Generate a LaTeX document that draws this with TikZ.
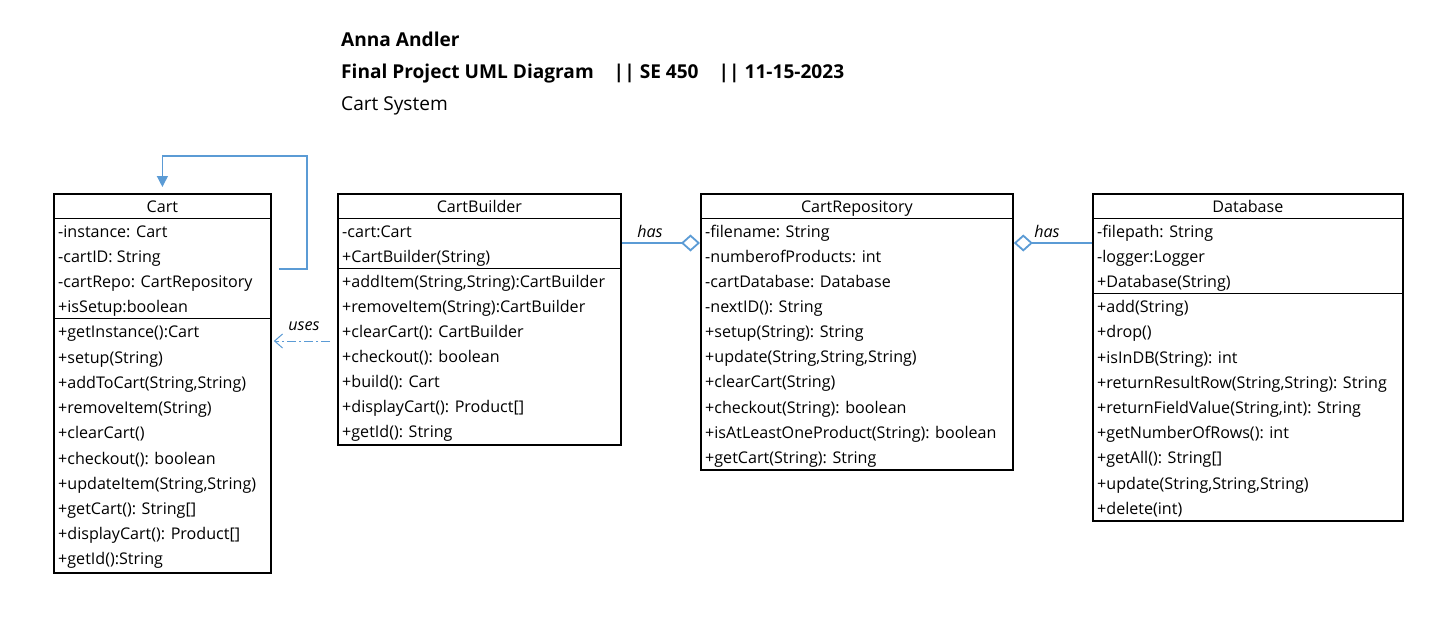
\documentclass[tikz,border=0pt]{standalone}
\usepackage{fontspec}
\setmainfont{Open Sans}
\usetikzlibrary{arrows.meta,calc}
\definecolor{umlblue}{HTML}{5B9BD5}
\newcommand{\rowfont}{\fontsize{16.1}{19}\selectfont}
\newcommand{\titlefont}{\fontsize{19.1}{22}\selectfont}
\begin{document}
\begin{tikzpicture}[x=1pt,y=-1pt,
  classbox/.style={draw, line width=1.8pt, inner sep=0pt, anchor=north west},
  rowtext/.style={anchor=base west, inner sep=0pt, font=\rowfont},
  headtext/.style={anchor=base, inner sep=0pt, font=\rowfont},
  sepline/.style={line width=1pt},
  link/.style={draw=umlblue, line width=1.8pt},
  lbl/.style={inner sep=0pt, font=\rowfont\itshape},
  ttl/.style={anchor=base west, inner sep=0pt, font=\titlefont}]
\useasboundingbox (0,0) rectangle (1451,643);
% titles
\node[ttl, font=\titlefont\bfseries] (t1) at (341,46) {Anna Andler};
\node[ttl, font=\titlefont\bfseries] (t2) at (341,78) {Final Project UML Diagram\hspace{20pt}|| SE 450\hspace{20pt}|| 11-15-2023};
\node[ttl] (t3) at (341,110) {Cart System};
% boxes
\node[classbox, minimum width=217pt, minimum height=379pt] (cart) at (53,193) {};
\node[classbox, minimum width=283pt, minimum height=251pt] (cb) at (337,193) {};
\node[classbox, minimum width=312pt, minimum height=276pt] (repo) at (700,193) {};
\node[classbox, minimum width=310pt, minimum height=327pt] (db) at (1092,193) {};
% headers
\foreach \b/\t in {cart/Cart, cb/CartBuilder, repo/CartRepository, db/Database}{
  \node[headtext] (\b-h) at ($(\b.north)+(0,19)$) {\t};
  \draw[sepline] ($(\b.north west)+(0,25)$) -- ($(\b.north east)+(0,25)$);
}
% Cart rows
\foreach [count=\i] \t in {{-instance: Cart},{-cartID: String},{-cartRepo: CartRepository},{+isSetup:boolean},
  {+getInstance():Cart},{+setup(String)},{+addToCart(String,String)},{+removeItem(String)},{+clearCart()},
  {+checkout(): boolean},{+updateItem(String,String)},{+getCart(): String[]},{+displayCart(): Product[]},{+getId():String}}
  \node[rowtext] (cart-r\i) at ($(cart.north west)+(5,44+25.23*\i-25.23)$) {\t};
\draw[sepline] ($(cart.north west)+(0,125.5)$) -- ($(cart.north east)+(0,125.5)$);
% CartBuilder rows
\foreach [count=\i] \t in {{-cart:Cart},{+CartBuilder(String)},
  {+addItem(String,String):CartBuilder},{+removeItem(String):CartBuilder},{+clearCart(): CartBuilder},
  {+checkout(): boolean},{+build(): Cart},{+displayCart(): Product[]},{+getId(): String}}
  \node[rowtext] (cb-r\i) at ($(cb.north west)+(5,44+25.1*\i-25.1)$) {\t};
\draw[sepline] ($(cb.north west)+(0,75.5)$) -- ($(cb.north east)+(0,75.5)$);
% CartRepository rows
\foreach [count=\i] \t in {{-filename: String},{-numberofProducts: int},{-cartDatabase: Database},{-nextID(): String},
  {+setup(String): String},{+update(String,String,String)},{+clearCart(String)},{+checkout(String): boolean},
  {+isAtLeastOneProduct(String): boolean},{+getCart(String): String}}
  \node[rowtext] (repo-r\i) at ($(repo.north west)+(5,44+25.15*\i-25.15)$) {\t};
% Database rows
\foreach [count=\i] \t in {{-filepath: String},{-logger:Logger},{+Database(String)},
  {+add(String)},{+drop()},{+isInDB(String): int},{+returnResultRow(String,String): String},
  {+returnFieldValue(String,int): String},{+getNumberOfRows(): int},{+getAll(): String[]},
  {+update(String,String,String)},{+delete(int)}}
  \node[rowtext] (db-r\i) at ($(db.north west)+(5,44+25.2*\i-25.2)$) {\t};
\draw[sepline] ($(db.north west)+(0,100.5)$) -- ($(db.north east)+(0,100.5)$);
% self association on Cart
\coordinate (loopstart) at ($(cart.north east)+(7,76)$);
\coordinate (loopcorner) at (307,156);
\draw[link, line width=1.3pt, -{Triangle[length=11pt,width=11pt]}] (loopstart) -| (loopcorner) -| ([yshift=6pt]cart.north);
% uses
\draw[draw=umlblue, line width=1pt, dash pattern=on 9pt off 3pt on 2pt off 3pt,
  -{Straight Barb[length=8pt,width=14pt]}] ($(cb.north west)+(-7,148)$) -- ($(cart.north east)+(2,148)$);
\node[lbl] (usesl) at (304,326) {uses};
% has (CartBuilder -> CartRepository)
\draw[link, -{Diamond[open,fill=white,length=19pt,width=17pt]}] ($(cb.north east)+(0,50)$) -- ($(repo.north west)+(0,50)$);
\node[lbl] (has1) at (650,231) {has};
% has (Database -> CartRepository)
\draw[link, -{Diamond[open,fill=white,length=19pt,width=17pt]}] ($(db.north west)+(0,50)$) -- ($(repo.north east)+(0,50)$);
\node[lbl] (has2) at (1047,231) {has};
\end{tikzpicture}
\end{document}
